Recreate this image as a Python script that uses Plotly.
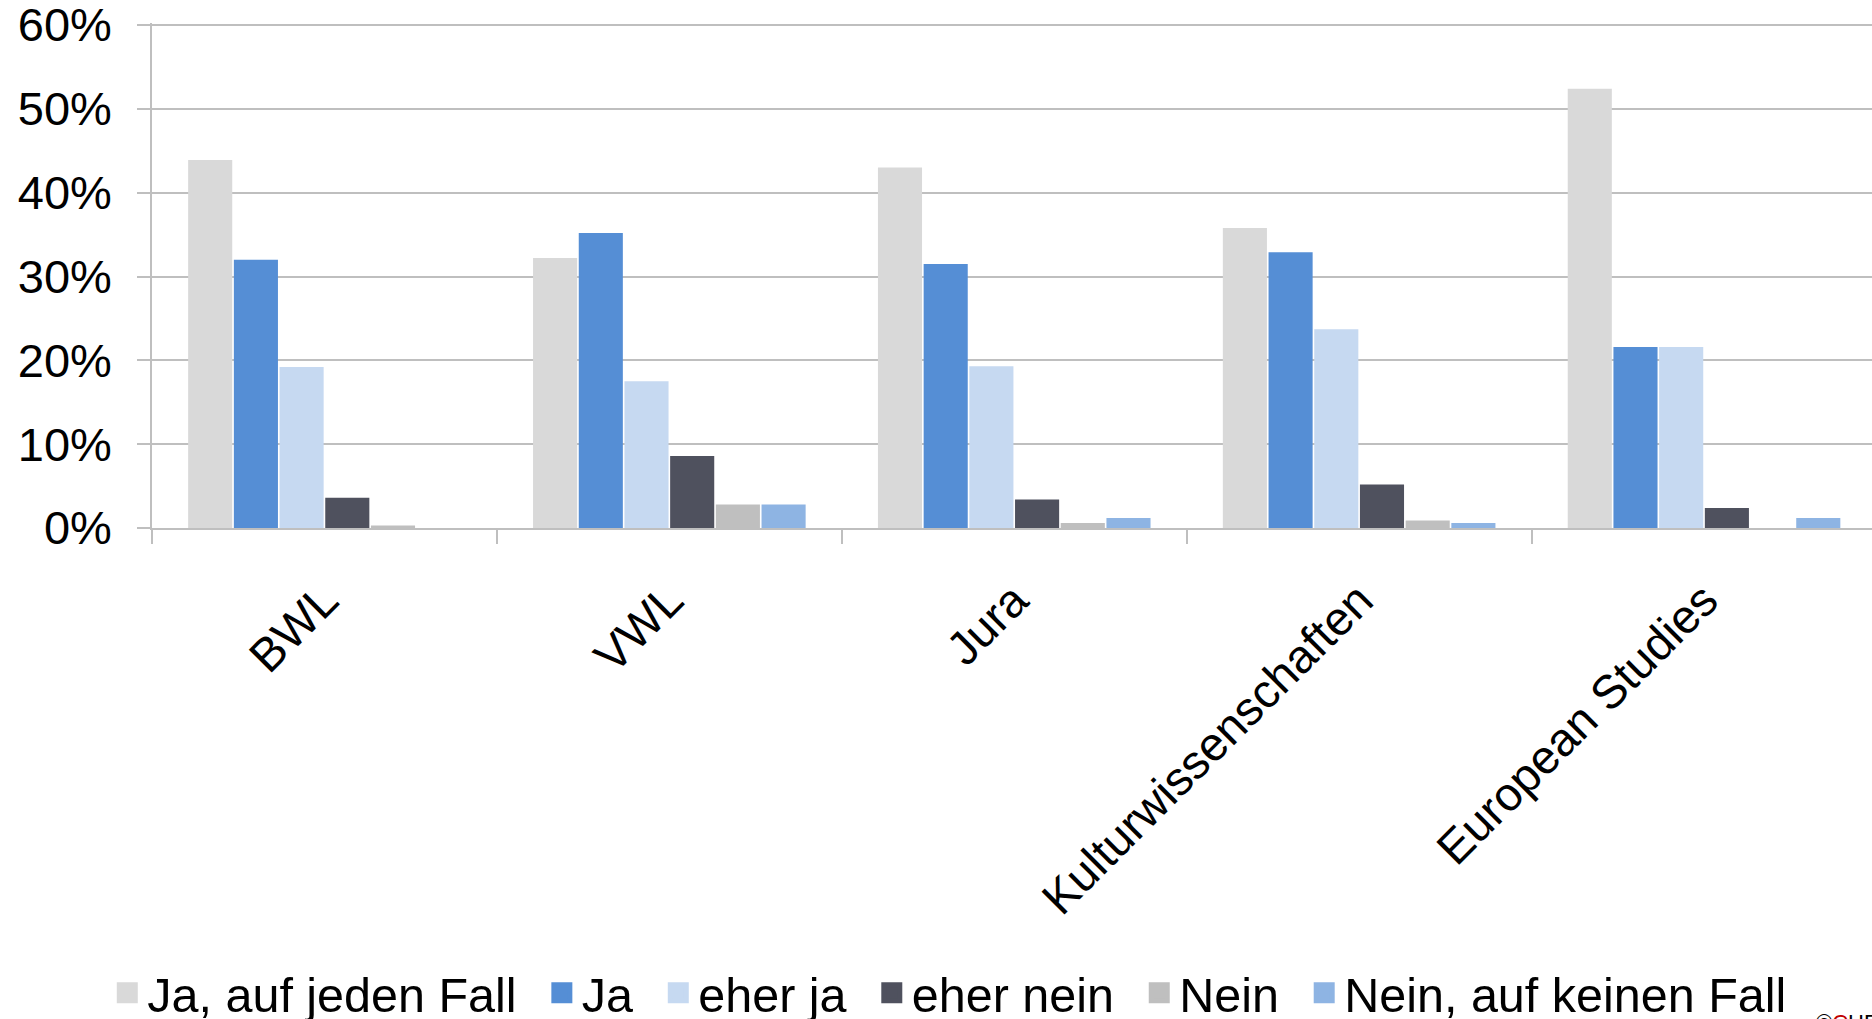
import plotly.graph_objects as go

categories = ["BWL", "VWL", "Jura", "Kulturwissenschaften", "European Studies"]

series_names = ["Ja, auf jeden Fall", "Ja", "eher ja", "eher nein", "Nein", "Nein, auf keinen Fall"]

ja_auf_jeden_fall = [0.439, 0.322, 0.430, 0.358, 0.524]
ja = [0.320, 0.352, 0.315, 0.329, 0.216]
eher_ja = [0.192, 0.175, 0.193, 0.237, 0.216]
eher_nein = [0.036, 0.086, 0.034, 0.052, 0.024]
nein = [0.003, 0.028, 0.006, 0.009, 0.0]
nein_auf_keinen_fall = [0.0, 0.028, 0.012, 0.006, 0.012]

y_tickvals = [0, 0.1, 0.2, 0.3, 0.4, 0.5, 0.6]
y_ticktext = ["0%", "10%", "20%", "30%", "40%", "50%", "60%"]

colors = ["#D9D9D9", "#558ED5", "#C6D9F1", "#4F515E", "#BFBFBF", "#8EB4E3"]

values = [ja_auf_jeden_fall, ja, eher_ja, eher_nein, nein, nein_auf_keinen_fall]

FONT = "Liberation Sans, Arial, sans-serif"
GRID = "#BFBFBF"

fig = go.Figure()
for name, vals, col in zip(series_names, values, colors):
    fig.add_trace(go.Bar(
        name=name, x=categories, y=vals, showlegend=False, legendgroup=name,
        marker=dict(color=col, line=dict(width=0)),
    ))
# legend entries (square swatches)
for name, col in zip(series_names, colors):
    fig.add_trace(go.Scatter(
        name=name + "\u2005\u2006", x=[None], y=[None], mode="markers", legendgroup=name,
        marker=dict(symbol="square", size=16, color=col, line=dict(color=col, width=5)),
        showlegend=True, hoverinfo="skip",
    ))

fig.update_layout(
    width=1872, height=1019,
    barmode="group", bargap=0.205, bargroupgap=0.035,
    plot_bgcolor="white", paper_bgcolor="white",
    margin=dict(l=152, r=0, t=23, b=491, autoexpand=False),
    font=dict(family=FONT, size=47, color="black"),
    showlegend=True,
    legend=dict(
        orientation="h", x=-0.026, xanchor="left", y=-0.921, yanchor="middle",
        font=dict(family=FONT, size=48.5, color="black"),
        itemwidth=30, traceorder="normal",
    ),
    annotations=[dict(
        text="©<span style='color:#C00000'>C</span>HE", xref="paper", yref="paper",
        x=0.966, y=-0.95, xanchor="left", yanchor="top", showarrow=False,
        font=dict(family=FONT, size=22, color="black"),
    )],
)

fig.update_xaxes(
    range=[-0.5, 4.487],
    showline=True, linecolor=GRID, linewidth=1.5,
    ticks="outside", tickson="boundaries", ticklen=14, tickcolor=GRID, tickwidth=1.5,
    tickangle=-45, tickfont=dict(family=FONT, size=47, color="black"),
    ticklabelstandoff=24,
    showgrid=False, automargin=False,
)
fig.update_yaxes(
    range=[0, 0.6024],
    tickvals=y_tickvals, ticktext=y_ticktext,
    showline=True, linecolor=GRID, linewidth=1.5,
    ticks="outside", ticklen=13, tickcolor=GRID, tickwidth=1.5,
    showgrid=True, gridcolor=GRID, gridwidth=1.5,
    zeroline=False, ticklabeloverflow="allow",
    tickfont=dict(family=FONT, size=47, color="black"),
    ticklabelstandoff=16, automargin=False,
)

fig.write_html(
    "out.html",
    config={"displayModeBar": False},
    post_script="document.body.style.margin='0';document.body.style.overflow='hidden';",
)
